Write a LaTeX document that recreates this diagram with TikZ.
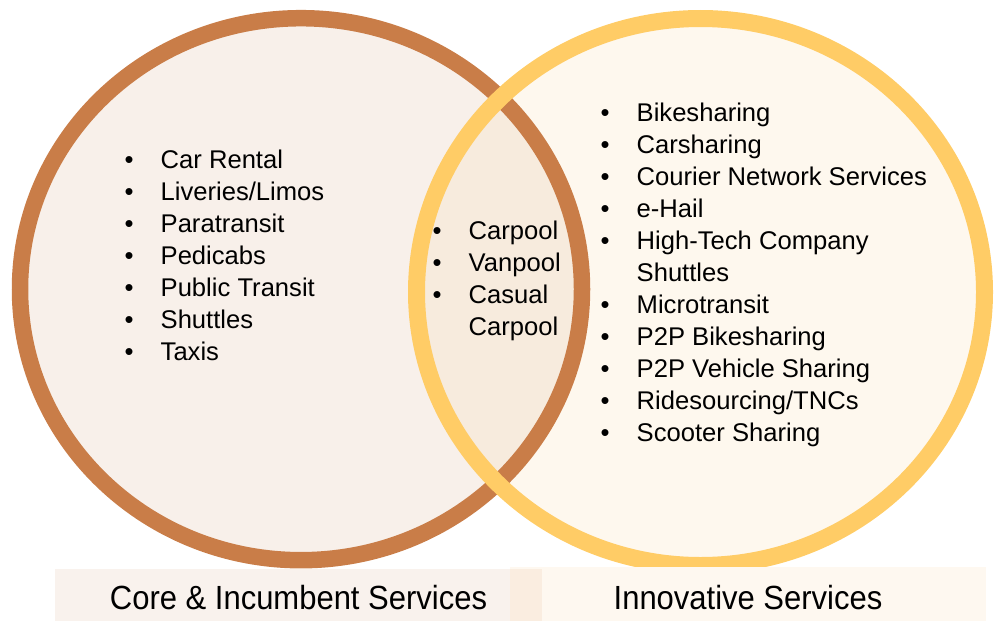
\documentclass[tikz,border=0pt]{standalone}
\usepackage{fontspec}
\setmainfont{Liberation Sans}
\newfontfamily\labelfont[FakeStretch=0.925]{Liberation Sans}
\definecolor{ringbrown}{RGB}{201,125,72}
\definecolor{ringyellow}{RGB}{255,204,102}
\definecolor{leftfill}{RGB}{248,240,234}
\definecolor{rightfill}{RGB}{254,248,238}
\definecolor{midfill}{RGB}{247,235,221}
\definecolor{boxleft}{RGB}{249,242,237}
\definecolor{boxright}{RGB}{254,248,240}
\definecolor{boxmid}{RGB}{250,237,224}
\newcommand{\itm}[1]{\makebox[0pt]{•}\hspace{31.5pt}#1}
\newcommand{\cnt}[1]{\hspace{31.5pt}#1}
\begin{document}
\begin{tikzpicture}[x=1pt,y=-1pt,
  listtext/.style={anchor=base west, inner sep=0pt, font=\fontsize{25.6}{32}\selectfont},
  labeltext/.style={anchor=base, inner sep=0pt, font=\labelfont\fontsize{33.5}{40}\selectfont},
  leftell/.style={x radius=281pt, y radius=271pt},
  rightell/.style={x radius=284pt, y radius=273.5pt}]
\useasboundingbox (0,0) rectangle (996,621);
% fills
\fill[leftfill] (301,289.2) ellipse [leftell];
\fill[rightfill] (700.5,292) ellipse [rightell];
\begin{scope}
  \clip (301,289.2) ellipse [leftell];
  \fill[midfill] (700.5,292) ellipse [rightell];
\end{scope}
% rings
\draw[ringbrown, line width=16.5pt] (301,289.2) ellipse [leftell];
\draw[ringyellow, line width=17pt] (700.5,292) ellipse [rightell];
% lists
\node[listtext] (corelist) at (129,168) {\begin{tabular}[t]{@{}l@{}}
\itm{Car Rental}\\
\itm{Liveries/Limos}\\
\itm{Paratransit}\\
\itm{Pedicabs}\\
\itm{Public Transit}\\
\itm{Shuttles}\\
\itm{Taxis}
\end{tabular}};
\node[listtext] (sharedlist) at (437,239) {\begin{tabular}[t]{@{}l@{}}
\itm{Carpool}\\
\itm{Vanpool}\\
\itm{Casual}\\
\cnt{Carpool}
\end{tabular}};
\node[listtext] (innovlist) at (605,121) {\begin{tabular}[t]{@{}l@{}}
\itm{Bikesharing}\\
\itm{Carsharing}\\
\itm{Courier Network Services}\\
\itm{e-Hail}\\
\itm{High-Tech Company}\\
\cnt{Shuttles}\\
\itm{Microtransit}\\
\itm{P2P Bikesharing}\\
\itm{P2P Vehicle Sharing}\\
\itm{Ridesourcing/TNCs}\\
\itm{Scooter Sharing}
\end{tabular}};
% bottom label boxes
\fill[boxleft] (55,569) rectangle (542,621);
\fill[boxright] (510,567) rectangle (986,621);
\fill[boxmid] (510,569) rectangle (542,621);
\node[labeltext] (corelabel) at (298.5,609) {Core \& Incumbent Services};
\node[labeltext] (innovlabel) at (748,609) {Innovative Services};
\end{tikzpicture}
\end{document}
